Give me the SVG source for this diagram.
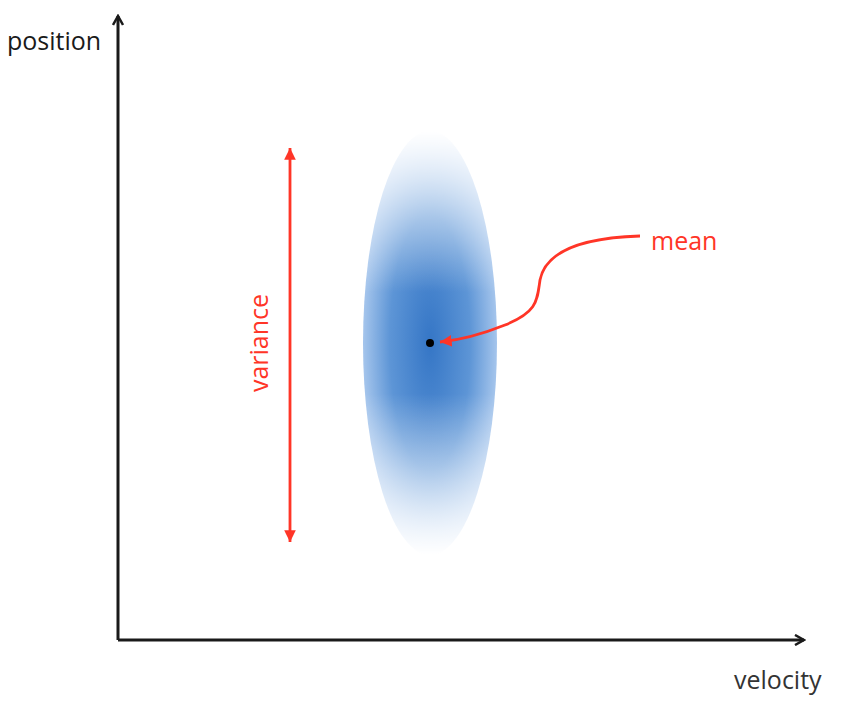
<svg xmlns="http://www.w3.org/2000/svg" width="842" height="702" viewBox="0 0 842 702">
<style>
.lbl{font-family:"Open Sans","Liberation Sans",sans-serif;font-size:25px}
.axis{stroke:#1a1a1a;stroke-width:3;fill:none}
.red{stroke:#ff3527;stroke-width:2.8;fill:none}
</style>
<defs>
<marker id="ah" viewBox="0 0 12 12" refX="10" refY="6" markerWidth="4" markerHeight="4" orient="auto" markerUnits="strokeWidth">
<path d="M1,1 L10,6 L1,11" fill="none" stroke="#1a1a1a" stroke-width="2.5"/>
</marker>
<marker id="rh" viewBox="0 0 12 12" refX="10" refY="6" markerWidth="5" markerHeight="5" orient="auto-start-reverse" markerUnits="strokeWidth">
<path d="M0,1 L10,6 L0,11 Z" fill="#ff3527"/>
</marker>
<radialGradient id="g" cx="0.5" cy="0.5" r="0.5">
<stop offset="0" stop-color="#3576c6"/>
<stop offset="0.6" stop-color="#5d95d6"/>
<stop offset="1" stop-color="#a5c5ec"/>
</radialGradient>
<linearGradient id="mg" x1="0" y1="0" x2="0" y2="1">
<stop offset="0" stop-color="#000"/>
<stop offset="0.38" stop-color="#fff"/>
<stop offset="0.62" stop-color="#fff"/>
<stop offset="1" stop-color="#000"/>
</linearGradient>
<mask id="m" maskContentUnits="objectBoundingBox">
<rect x="0" y="0" width="1" height="1" fill="url(#mg)"/>
</mask>
</defs>
<rect width="842" height="702" fill="#fff"/>
<g id="ellipse">
<ellipse cx="430" cy="343" rx="67" ry="212" fill="url(#g)" mask="url(#m)"/>
<circle cx="430" cy="343" r="4" fill="#000"/>
</g>
<g id="connectors">
<path class="axis" d="M118,640 L118,16" marker-end="url(#ah)"/>
<path class="axis" d="M118,640 L804,640" marker-end="url(#ah)"/>
<path class="red" d="M290,148 L290,542" marker-start="url(#rh)" marker-end="url(#rh)"/>
<path class="red" d="M640,236 C575,238 545,255 540,280 C537,300 538,312 505,325 C480,335 460,340 440,342" marker-end="url(#rh)"/>
</g>
<g id="labels">
<text class="lbl" x="7" y="50" fill="#1a1a1a">position</text>
<text class="lbl" x="734" y="689" fill="#333">velocity</text>
<text class="lbl" x="651" y="250" fill="#ff3527">mean</text>
<text class="lbl" x="0" y="0" fill="#ff3527" text-anchor="middle" transform="translate(268,343) rotate(-90)">variance</text>
</g>
</svg>
